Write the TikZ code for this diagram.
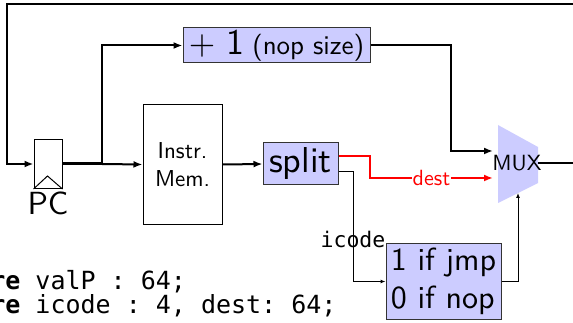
\documentclass[tikz,border=0pt]{standalone}
\usepackage{fontspec}
\setmainfont{lmroman10-regular}[Extension=.otf,BoldFont=lmroman10-bold]
\setsansfont{lmsans10-regular}[Extension=.otf,BoldFont=lmsans10-bold]
\setmonofont{DejaVu Sans Mono}
\usetikzlibrary{arrows.meta}
\definecolor{boxblue}{RGB}{204,204,255}
\begin{document}
\begin{tikzpicture}[x=1pt,y=-1pt,
  wire/.style={line width=2pt},
  thinwire/.style={line width=1pt},
  bigtip/.style={-{Latex[length=9pt,width=7pt]}},
  smalltip/.style={-{Latex[length=5pt,width=4pt]}},
  bluebox/.style={draw=black!80,line width=1pt,fill=boxblue,inner sep=0pt,font=\sffamily},
  plainbox/.style={draw=black,line width=1pt,inner sep=0pt,font=\sffamily},
  codeline/.style={anchor=base west,inner sep=0pt,font=\ttfamily\fontsize{25}{25}\selectfont},
]
\useasboundingbox (0,0) rectangle (573,323);
\clip (0,0) rectangle (573,323);

% PC register
\node[plainbox,minimum width=28pt,minimum height=49pt] (pc) at (48,164) {};
\draw[line width=1pt] (pc.south west) -- ++(14,-13) -- (pc.south east);
\node[anchor=base,inner sep=0pt,font=\sffamily\fontsize{32}{38}\selectfont] (pclabel) at (48,215) {PC};

% instruction memory
\node[plainbox,minimum width=79pt,minimum height=120pt,align=center,font=\sffamily\fontsize{23}{28}\selectfont] (imem) at (182.5,164.5) {Instr.\\Mem.};

% split
\node[bluebox,minimum width=75pt,minimum height=42pt,font=\sffamily\fontsize{36}{40}\selectfont] (split) at (300.5,164) {split};

% +1
\node[bluebox,minimum width=187pt,minimum height=35pt] (plus) at (276.5,45.5)
  {{\rmfamily\fontsize{34}{40}\selectfont +}\hspace{11pt}{\fontsize{36}{40}\selectfont 1}\hspace{8pt}{\fontsize{27}{30}\selectfont (nop size)}};

% selector
\node[bluebox,minimum width=115pt,minimum height=75pt,align=left,font=\sffamily\fontsize{32}{38}\selectfont] (sel) at (443.5,281.5) {1 if jmp\\0 if nop};

% mux
\fill[boxblue] (498,125) -- (538,147) -- (538,183) -- (498,203) -- cycle;
\node[inner sep=0pt,font=\sffamily\fontsize{22}{26}\selectfont] (mux) at (517,163) {MUX};
\coordinate (muxA) at (493,151);
\coordinate (muxB) at (493,178);
\coordinate (muxC) at (518,193);
\coordinate (muxout) at (538,163);
\coordinate (branch) at (102,164);

% code
\node[codeline] (code1) at (-40,289) {\textbf{wire} valP : 64;};
\node[codeline] (code2) at (-40,313) {\textbf{wire} icode : 4, dest: 64;};

% wires
\draw[line width=3pt] (pc.east) -- (branch);
\draw[wire,bigtip] (branch) -- (imem.west);
\draw[wire,bigtip] (branch) |- (plus.west);
\draw[wire,bigtip] (imem.east) -- (split.west);
\draw[wire,bigtip] (plus.east) -| (451,151) -- (muxA);
\draw[wire,red,bigtip] ([yshift=8pt]split.east) -- (370,156) |- node[pos=0.75,fill=white,inner sep=1pt,font=\sffamily\fontsize{22}{26}\selectfont] {dest} (muxB);
\draw[thinwire,smalltip] ([yshift=-8pt]split.east) -- (353,172) |- node[pos=0.31,inner sep=0pt,font=\ttfamily\fontsize{21.5}{24}\selectfont] {icode} (sel.west);
\draw[thinwire,smalltip] (sel.east) -| (muxC);
\draw[wire,bigtip] (muxout) -- (600,163) -- (600,4) -- (7,4) -- (7,164) -- (pc.west);
\end{tikzpicture}
\end{document}
